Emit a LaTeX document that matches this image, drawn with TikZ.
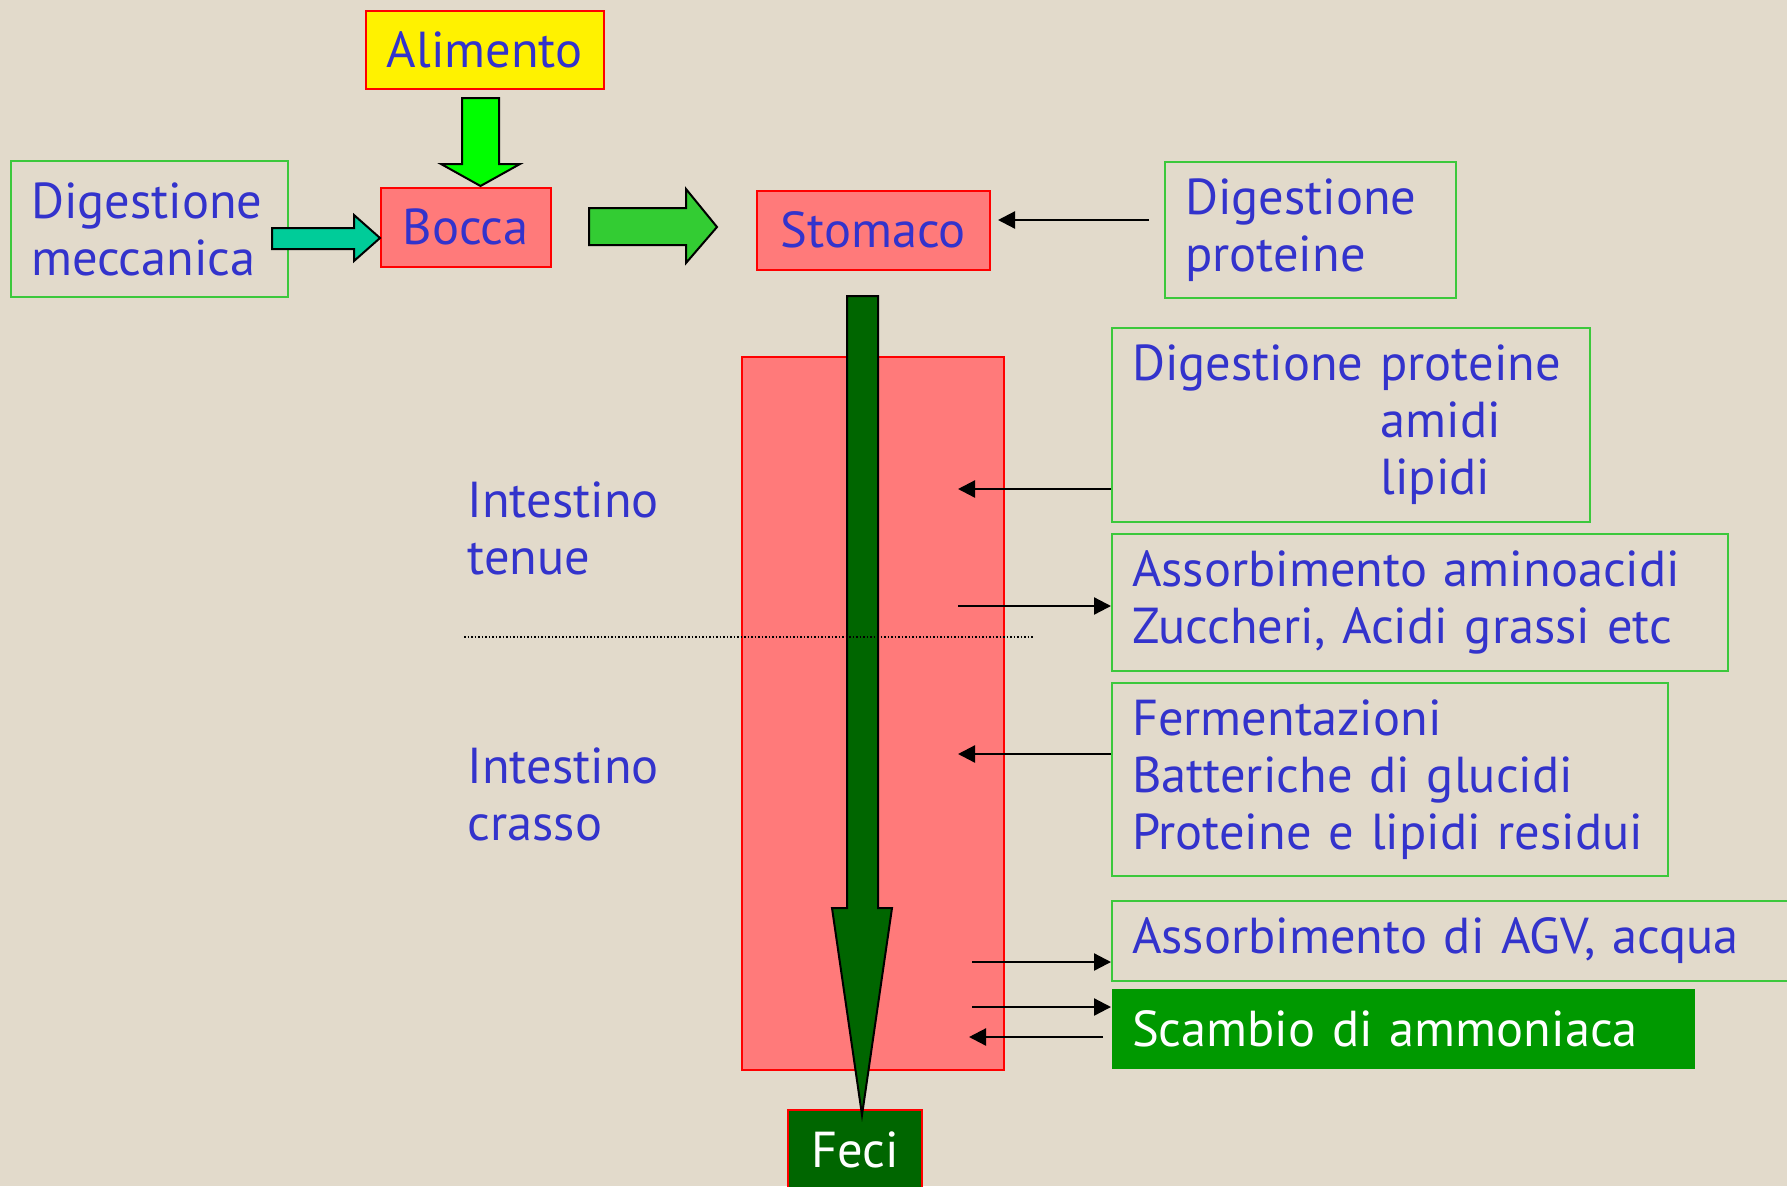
\documentclass[tikz,border=0pt]{standalone}
\usepackage{fontspec}
\setmainfont{PT Sans}
\usetikzlibrary{arrows.meta}
\definecolor{bg}{RGB}{226,218,203}
\definecolor{pinkf}{RGB}{255,122,122}
\definecolor{tblue}{RGB}{51,51,204}
\definecolor{gborder}{RGB}{60,200,60}
\definecolor{lime}{RGB}{0,255,0}
\definecolor{tealg}{RGB}{0,204,153}
\definecolor{midgreen}{RGB}{51,204,51}
\definecolor{dkgreen}{RGB}{0,102,0}
\definecolor{scgreen}{RGB}{0,153,0}
\begin{document}
\begin{tikzpicture}[x=1pt,y=-1pt,
  txt/.style={font=\fontsize{50.5}{57}\selectfont, text=tblue},
  gbox/.style={txt, draw=gborder, line width=2pt, inner xsep=20pt, inner ysep=0pt, align=left, anchor=north west},
  rbox/.style={txt, draw=red, line width=1.5pt, fill=pinkf, inner sep=0pt, align=center, anchor=north west},
  tarrow/.style={line width=2.3pt, -{Triangle[length=17pt,width=17pt]}},
  block/.style={draw=black, line width=2pt, line join=miter}]
\fill[bg] (0,0) rectangle (1787,1186);
\useasboundingbox (0,0) rectangle (1787,1186);

% top row
\node[rbox, fill=yellow, minimum width=238, minimum height=78] (alim) at (365,10) {Alimento};
\node[rbox, minimum width=170, minimum height=79] (bocca) at (380,187) {Bocca};
\node[rbox, minimum width=233, minimum height=79] (stom) at (756,190) {Stomaco};
\node[gbox, minimum width=277, minimum height=136, text width=237] (dm) at (10,160) {Digestione\\meccanica};
\node[gbox, minimum width=291, minimum height=136, text width=251] (dp) at (1164,161) {Digestione\\proteine};

% block arrows
\draw[block, fill=lime] (462,98) -- (499,98) -- (499,164) -- (520,164) -- (480.5,186) -- (441,164) -- (462,164) -- cycle;
\draw[block, fill=tealg] (272,228) -- (354,228) -- (354,215) -- (380,238) -- (354,261) -- (354,249) -- (272,249) -- cycle;
\draw[block, fill=midgreen] (589,208) -- (686,208) -- (686,189) -- (717,227) -- (686,263) -- (686,245) -- (589,245) -- cycle;

\coordinate (dpa) at (1149,220);
\coordinate (stoma) at (998,220);
\draw[tarrow] (dpa) -- (stoma);

% intestine
\node[rbox, minimum width=262, minimum height=713] (intest) at (741,356) {};
\node[rbox, fill=dkgreen, text=white, minimum width=134, minimum height=80] (feci) at (787,1109) {Feci};
\draw[block, fill=dkgreen] (847,296) -- (878,296) -- (878,908) -- (892,908) -- (862,1115) -- (832,908) -- (847,908) -- cycle;
\coordinate (dl1) at (464,637);
\coordinate (dl2) at (1034,637);
\draw[dotted, line width=1.5pt] (dl1) -- (dl2);

\node[txt, align=left, anchor=west] (tenue) at (464,528) {Intestino\\tenue};
\node[txt, align=left, anchor=west] (crasso) at (464,794) {Intestino\\crasso};

% right boxes
\node[gbox, minimum width=478, minimum height=194, text width=438] (b1) at (1111,327) {Digestione proteine\\\phantom{Digestione }amidi\\\phantom{Digestione }lipidi};
\node[gbox, minimum width=616, minimum height=137, text width=576] (b2) at (1111,533) {Assorbimento aminoacidi\\Zuccheri, Acidi grassi etc};
\node[gbox, minimum width=556, minimum height=193, text width=516] (b3) at (1111,682) {Fermentazioni\\Batteriche di glucidi\\Proteine e lipidi residui};
\node[gbox, minimum width=690, minimum height=80, text width=650] (b4) at (1111,900) {Assorbimento di AGV, acqua};
\node[gbox, draw=none, fill=scgreen, text=white, minimum width=583, minimum height=80, text width=543] (b5) at (1111,988) {Scambio di ammoniaca};

% thin arrows
\coordinate (a1s) at (1111,489); \coordinate (a1e) at (958,489);
\draw[tarrow] (a1s) -- (a1e);
\coordinate (a2s) at (958,606); \coordinate (a2e) at (1111,606);
\draw[tarrow] (a2s) -- (a2e);
\coordinate (a3s) at (1111,754); \coordinate (a3e) at (958,754);
\draw[tarrow] (a3s) -- (a3e);
\coordinate (a4s) at (972,962); \coordinate (a4e) at (1111,962);
\draw[tarrow] (a4s) -- (a4e);
\coordinate (a5s) at (972,1007); \coordinate (a5e) at (1111,1007);
\draw[tarrow] (a5s) -- (a5e);
\coordinate (a6s) at (1103,1037); \coordinate (a6e) at (969,1037);
\draw[tarrow] (a6s) -- (a6e);
\end{tikzpicture}
\end{document}
